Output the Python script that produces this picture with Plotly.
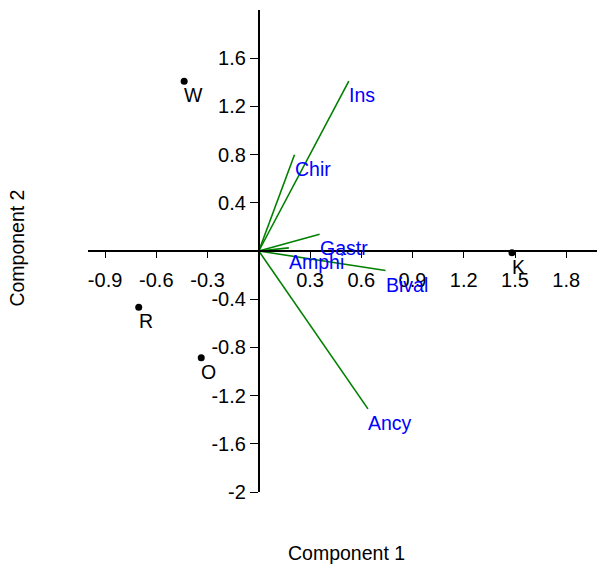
import plotly.graph_objects as go

# Sample scores
site_names = ["W", "R", "O", "K"]
site_pc1 = [-0.437, -0.703, -0.337, 1.482]
site_pc2 = [1.409, -0.466, -0.886, -0.015]

# Variable loadings
var_names = ["Ins", "Chir", "Gastr", "Amphi", "Bival", "Ancy"]
var_pc1 = [0.527, 0.209, 0.356, 0.176, 0.742, 0.639]
var_pc2 = [1.409, 0.798, 0.139, 0.026, -0.162, -1.31]

x_ticks = [-0.9, -0.6, -0.3, 0.3, 0.6, 0.9, 1.2, 1.5, 1.8]
x_ticklabels = ["-0.9", "-0.6", "-0.3", "0.3", "0.6", "0.9", "1.2", "1.5", "1.8"]
y_ticks = [1.6, 1.2, 0.8, 0.4, -0.4, -0.8, -1.2, -1.6, -2]
y_ticklabels = ["1.6", "1.2", "0.8", "0.4", "-0.4", "-0.8", "-1.2", "-1.6", "-2"]

XR = [-1.0, 1.98]
YR = [-2.0, 2.0]
FONT = "Liberation Sans, Arial, sans-serif"
LBL = 19.5

fig = go.Figure()

for name, vx, vy in zip(var_names, var_pc1, var_pc2):
    fig.add_trace(go.Scatter(
        x=[0, vx], y=[0, vy], mode="lines",
        line=dict(color="rgb(0,128,0)", width=1.6),
        hoverinfo="skip", showlegend=False))

fig.add_trace(go.Scatter(
    x=site_pc1, y=site_pc2, mode="markers",
    marker=dict(color="black", size=7),
    showlegend=False))

annotations = []
for name, vx, vy in zip(var_names, var_pc1, var_pc2):
    annotations.append(dict(
        x=vx, y=vy, xref="x", yref="y", text=name, showarrow=False,
        xanchor="left", yanchor="top", xshift=-2, yshift=-1,
        font=dict(color="rgb(0,0,255)", size=LBL, family=FONT)))
for name, sx, sy in zip(site_names, site_pc1, site_pc2):
    annotations.append(dict(
        x=sx, y=sy, xref="x", yref="y", text=name, showarrow=False,
        xanchor="left", yanchor="top", xshift=-2, yshift=-1,
        font=dict(color="black", size=LBL, family=FONT)))

annotations += [
    dict(text="Component 1", xref="paper", yref="paper", x=0.507, y=-0.1266,
         showarrow=False, xanchor="center", yanchor="middle",
         font=dict(size=LBL, family=FONT)),
    dict(text="Component 2", xref="paper", yref="paper", x=-0.1385, y=0.506,
         showarrow=False, textangle=-90, xanchor="center", yanchor="middle",
         font=dict(size=LBL, family=FONT)),
]

fig.update_layout(
    width=597, height=565,
    margin=dict(l=88, r=0, t=10, b=73),
    plot_bgcolor="white", paper_bgcolor="white",
    font=dict(family=FONT, size=20, color="black"),
    xaxis=dict(range=XR, anchor="free", position=(0 - YR[0]) / (YR[1] - YR[0]),
               showline=True, linecolor="black", linewidth=1.8,
               ticks="outside", ticklen=6, tickwidth=1.4, tickcolor="black",
               tickvals=x_ticks, ticktext=x_ticklabels,
               tickfont=dict(size=20, family=FONT), ticklabelstandoff=5,
               showgrid=False, zeroline=False),
    yaxis=dict(range=YR, anchor="free", position=(0 - XR[0]) / (XR[1] - XR[0]),
               showline=True, linecolor="black", linewidth=1.8,
               ticks="outside", ticklen=8, tickwidth=1.4, tickcolor="black",
               tickvals=y_ticks, ticktext=y_ticklabels,
               tickfont=dict(size=20, family=FONT),
               showgrid=False, zeroline=False),
    annotations=annotations,
)

fig.write_html("out.html")
